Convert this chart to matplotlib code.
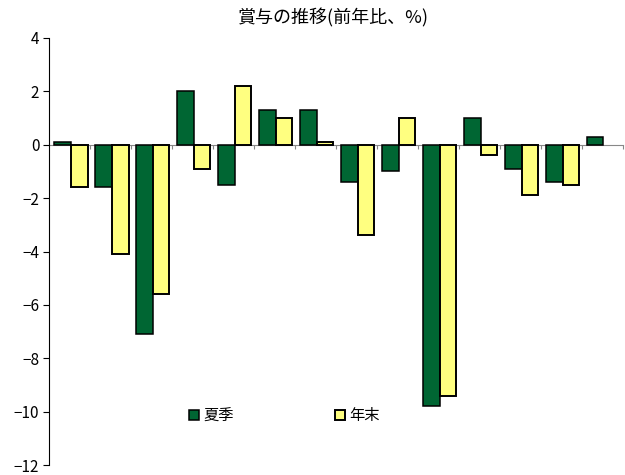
import numpy as np
import matplotlib
matplotlib.use("Agg")
import matplotlib.pyplot as plt

plt.rcParams["font.family"] = ["Noto Sans CJK JP", "DejaVu Sans"]


# ---------------------------------------
# Data
# ---------------------------------------

title = "賞与の推移(前年比、%)"

summer = [0.1, -1.6, -7.1, 2.0, -1.5, 1.3, 1.3,
          -1.4, -1.0, -9.8, 1.0, -0.9, -1.4, 0.3]

winter = [-1.6, -4.1, -5.6, -0.9, 2.2, 1.0, 0.1,
          -3.4, 1.0, -9.4, -0.4, -1.9, -1.5, np.nan]

labels = ["夏季", "年末"]

y_ticks = [-12, -10, -8, -6, -4, -2, 0, 2, 4]


# ---------------------------------------
# Plot
# ---------------------------------------

fig = plt.figure(figsize=(6.25, 4.75), dpi=100)
ax = fig.add_axes([0.0784, 0.021, 0.918, 0.899])

x = np.arange(len(summer))
w = 0.41
mid = 0.03

ax.bar(
    x + mid - w / 2, summer, w,
    color="#006633", edgecolor="black", linewidth=1.1,
    label=labels[0]
)

ax.bar(
    x + mid + w / 2, winter, w,
    color="#FFFF80", edgecolor="black", linewidth=1.4,
    label=labels[1]
)

ax.set_xlim(-0.5, len(summer) - 0.5)
ax.set_ylim(-12, 4)
ax.set_yticks(y_ticks)
ax.set_yticklabels(
    [str(t) if t >= 0 else "\u2212" + str(-t) for t in y_ticks],
    fontsize=11
)

ax.set_xticks(np.arange(len(summer)) + 0.5)
ax.set_xticklabels([])
ax.tick_params(axis="x", length=3, width=0.8, color="#888888", direction="out")
ax.tick_params(axis="y", length=4, width=0.8, pad=3)

ax.spines["top"].set_visible(False)
ax.spines["right"].set_visible(False)
ax.spines["bottom"].set_position(("data", 0))
ax.spines["bottom"].set_color("#888888")
ax.spines["bottom"].set_zorder(0)
ax.spines["left"].set_linewidth(0.8)

ax.legend(
    loc="center left",
    bbox_to_anchor=(0.22, 0.115),
    ncol=2,
    frameon=False,
    fontsize=11,
    handlelength=0.65,
    handleheight=0.65,
    handletextpad=0.3,
    columnspacing=6.6
)

fig.text(0.533, 0.962, title, ha="center", va="center", fontsize=13)

fig.savefig("out.png", dpi=100)
